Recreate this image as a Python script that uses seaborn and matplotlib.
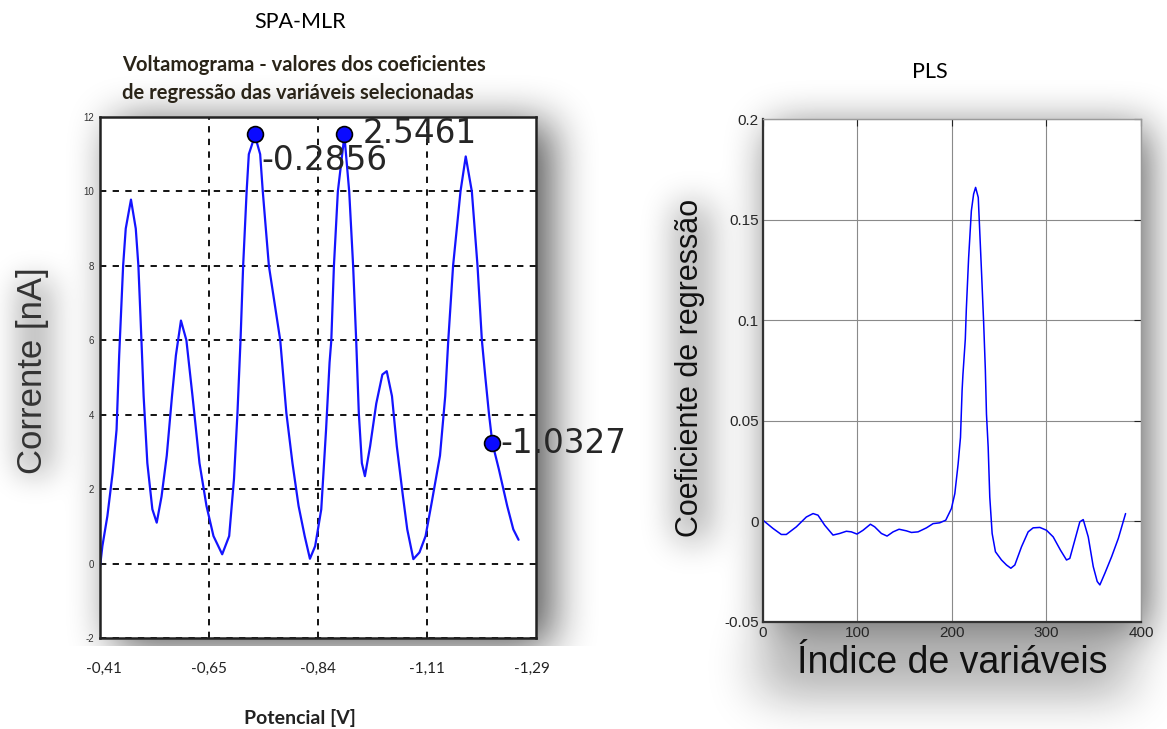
import matplotlib
matplotlib.use("Agg")
import matplotlib.pyplot as plt
import seaborn as sns
import pandas as pd
import numpy as np

# ---------------- data: SPA-MLR voltammogram ----------------
# scan position along the potential axis (0 = -0,41 V ... 100 = end of scan)
potencial_pos = [0, 0.65, 1.8, 3.0, 3.9, 4.5, 5.4, 6.0, 7.2, 8.3, 8.9, 9.6, 10.1, 10.95,
                 12.1, 13.1, 14.2, 15.4, 16.6, 17.5, 18.65, 19.9, 21.3, 22.9, 24.5, 26.1,
                 28.1, 29.7, 30.8, 31.6, 32.3, 32.9, 33.7, 34.2, 35.6, 36.8, 37.4, 38.8,
                 41.4, 42.8, 44.2, 45.6, 47.0, 48.2, 49.4, 50.8, 51.9, 52.7, 53.1, 53.7,
                 54.6, 56.1, 57.2, 58.1, 58.8, 59.4, 60.1, 60.8, 62.0, 63.4, 64.8, 65.8,
                 67.0, 68.1, 69.5, 70.5, 71.9, 73.3, 74.7, 76.1, 78.0, 79.2, 79.9, 81.0,
                 82.7, 83.9, 85.3, 86.6, 87.6, 88.4, 89.2, 90.0, 91.5, 93.4, 94.8, 96.0]
corrente = [-0.2, 0.47, 1.28, 2.44, 3.6, 5.6, 8.0, 9.0, 9.78, 9.0, 8.0, 6.0, 4.5, 2.7,
            1.46, 1.1, 1.8, 2.9, 4.5, 5.6, 6.53, 6.0, 4.5, 2.7, 1.55, 0.74,
            0.25, 0.74, 2.27, 4.05, 6.0, 8.0, 10.0, 11.0, 11.5, 11.0, 10.0, 8.0,
            6.0, 4.05, 2.7, 1.55, 0.74, 0.13, 0.47, 1.46, 3.6, 5.4, 6.0, 8.0,
            10.0, 11.5, 10.0, 8.0, 6.0, 4.05, 2.7, 2.35, 3.16, 4.3, 5.08, 5.17,
            4.5, 3.16, 1.82, 0.92, 0.12, 0.3, 0.74, 1.64, 2.9, 4.5, 6.0, 8.0,
            10.0, 10.94, 10.0, 8.0, 6.0, 5.0, 4.05, 3.24, 2.53, 1.55, 0.92, 0.64]

sel_pos = [35.6, 56.1, 90.0]
sel_corrente = [11.55, 11.55, 3.24]
sel_coef = ["-0.2856", "2.5461", "-1.0327"]

pot_tick_pos = [1, 25, 50, 75, 99]
pot_tick_labels = ["-0,41", "-0,65", "-0,84", "-1,11", "-1,29"]
corr_ticks = [-2, 0, 2, 4, 6, 8, 10, 12]

# ---------------- data: PLS regression coefficients ----------------
indice = [0, 10.6, 19.4, 24.7, 35.3, 45.9, 53, 58.2, 65.3, 74.1, 81.2, 88.2, 93.5, 99.5,
          105.9, 113.7, 118.2, 125.3, 131.3, 137.7, 144, 151.8, 157.1, 164.1, 173, 180,
          187, 193.4, 199.4, 203, 206.5, 209, 210.7, 211.6, 214.1, 215.2, 217.6, 220.5,
          222.9, 225, 227.8, 230, 231.4, 233.5, 235.3, 236.5, 238.3, 240, 242.5, 246,
          252.4, 257.7, 262.3, 266.5, 273.6, 280.6, 285.9, 293, 300, 307.1, 314.8, 321.2,
          324.7, 330, 335.3, 338.9, 344.2, 349.5, 353.7, 356.5, 361.8, 368.9, 376, 383.7]
coeficiente = [0.0005, -0.0036, -0.0066, -0.0066, -0.0028, 0.0021, 0.0038, 0.003, -0.002,
               -0.0069, -0.0061, -0.005, -0.0053, -0.0064, -0.0045, -0.0015, -0.0028,
               -0.0061, -0.0074, -0.0053, -0.004, -0.0048, -0.0056, -0.0053, -0.0033,
               -0.0012, -0.0008, 0.0005, 0.0063, 0.0137, 0.0285, 0.0417, 0.065, 0.073,
               0.0906, 0.1057, 0.1309, 0.1544, 0.1628, 0.1661, 0.1611, 0.1376, 0.1225,
               0.099, 0.0755, 0.0533, 0.0368, 0.012, -0.0061, -0.0152, -0.0193, -0.0218,
               -0.0234, -0.0218, -0.0127, -0.0053, -0.0033, -0.0031, -0.0045, -0.0078,
               -0.0144, -0.0193, -0.0185, -0.0094, -0.0003, 0.0008, -0.0078, -0.0226,
               -0.03, -0.0317, -0.0259, -0.0177, -0.0086, 0.0038]
idx_ticks = [0, 100, 200, 300, 400]
coef_ticks = [-0.05, 0, 0.05, 0.1, 0.15, 0.2]
coef_tick_labels = ["-0.05", "0", "0.05", "0.1", "0.15", "0.2"]

# ---------------- style ----------------
sns.set_style("white")
plt.rcParams["font.family"] = ["Liberation Sans", "DejaVu Sans"]

W, H = 1167, 729
fig = plt.figure(figsize=(W / 100, H / 100), dpi=100)
fig.patch.set_facecolor("white")


# ---------------- soft drop shadows (decoration, pixel space) ----------------
def _blur1d(a, r, axis):
    a = np.moveaxis(a, axis, -1)
    p = np.pad(a, [(0, 0), (r + 1, r)], mode="constant")
    c = np.cumsum(p, axis=-1)
    out = (c[:, 2 * r + 1:] - c[:, :-2 * r - 1]) / (2 * r + 1)
    return np.moveaxis(out, -1, axis)


def _soft(rects, sigma):
    m = np.zeros((H, W))
    for (x0, y0, x1, y1) in rects:
        m[y0:y1, x0:x1] = 1.0
    r = max(1, int(round(sigma)))
    for _ in range(3):
        m = _blur1d(m, r, 1)
        m = _blur1d(m, r, 0)
    return m


layers = []
left_sh = 0.72 * _soft([(114, 123, 551, 646)], 20)
left_sh[646:, :600] = 0
layers.append(left_sh)
layers.append(0.30 * _soft([(18, 280, 52, 474)], 14))
layers.append(0.62 * _soft([(770, 128, 1150, 632)], 20))
layers.append(0.38 * _soft([(760, 640, 1130, 692)], 24))
layers.append(0.35 * _soft([(676, 205, 710, 540)], 16))
alpha = 1 - np.prod([1 - l for l in layers], axis=0)
shadow = np.zeros((H, W, 4))
shadow[..., :3] = 0.05
shadow[..., 3] = np.clip(alpha, 0, 1)
fig.figimage(shadow, xo=0, yo=0, origin="upper", zorder=-5)

# ================= left panel =================
axL = fig.add_axes([0.0853, 0.1248, 0.3740, 0.7147])
axL.set_facecolor("white")
dfL = pd.DataFrame({"pos": potencial_pos, "corrente": corrente})
sns.lineplot(data=dfL, x="pos", y="corrente", ax=axL, sort=False, estimator=None,
             color="#1414ff", linewidth=1.6)
dfS = pd.DataFrame({"pos": sel_pos, "corrente": sel_corrente})
sns.scatterplot(data=dfS, x="pos", y="corrente", ax=axL, s=130, color="#0a0aff",
                edgecolor="black", linewidth=1.2, zorder=5)
offsets = [(5, -19), (13, 0), (6, 0)]
for x, y, t, off in zip(sel_pos, sel_corrente, sel_coef, offsets):
    axL.annotate(t, (x, y), xytext=off, textcoords="offset points",
                 ha="left", va="center", fontsize=23.5, color="#262626",
                 family=["DejaVu Sans"], zorder=6)

axL.set_xlim(0, 100)
axL.set_ylim(-2, 12)
axL.set_xticks(pot_tick_pos)
axL.set_xticklabels(pot_tick_labels, fontsize=11, family=["Lato", "DejaVu Sans"],
                    color="#222222")
axL.set_yticks(corr_ticks)
axL.set_yticklabels([str(v) for v in corr_ticks], fontsize=7, color="#333333")
axL.tick_params(axis="x", direction="in", length=3, pad=17, width=1)
axL.tick_params(axis="y", direction="in", length=0, pad=4)
axL.grid(True, color="black", linestyle=(0, (3.5, 3.5)), linewidth=1.3)
gl = axL.xaxis.get_gridlines()
gl[0].set_visible(False)
gl[-1].set_visible(False)
for s in axL.spines.values():
    s.set_color("#222222")
    s.set_linewidth(1.8)
axL.set_xlabel("Potencial [V]", fontsize=14, fontweight="bold",
               family=["Lato", "DejaVu Sans"], color="#222222")
axL.xaxis.set_label_coords(0.459, -0.1536)
axL.xaxis.label.set_va("center")
axL.set_ylabel("Corrente [nA]", fontsize=25, color="#333333")
axL.yaxis.set_label_coords(-0.1526, 0.514)
axL.yaxis.label.set_va("center")

fig.text(0.1045, 1 - 79 / 729,
         "Voltamograma - valores dos coeficientes\nde regressão das variáveis selecionadas",
         ha="left", va="center", fontsize=14.5, fontweight="bold", linespacing=1.5,
         family=["Lato", "DejaVu Sans"], color="#2a2418")
fig.text(300 / 1167, 1 - 22 / 729, "SPA-MLR", ha="center", va="center", fontsize=15.5,
         family=["Lato", "DejaVu Sans"], color="black")

# ================= right panel =================
axR = fig.add_axes([0.6538, 0.1472, 0.3239, 0.6892])
axR.set_facecolor("white")
dfR = pd.DataFrame({"indice": indice, "coeficiente": coeficiente})
sns.lineplot(data=dfR, x="indice", y="coeficiente", ax=axR, sort=False, estimator=None,
             color="#0000ff", linewidth=1.1)
axR.set_xlim(0, 400)
axR.set_ylim(-0.05, 0.2)
axR.set_xticks(idx_ticks)
axR.set_xticklabels([str(v) for v in idx_ticks], fontsize=11)
axR.set_yticks(coef_ticks)
axR.set_yticklabels(coef_tick_labels, fontsize=11)
axR.tick_params(direction="in", length=5, top=True, right=True, pad=3, color="#222222")
axR.grid(True, color="#8a8a8a", linewidth=0.8)
for name, s in axR.spines.items():
    if name in ("left", "bottom"):
        s.set_color("#333333")
        s.set_linewidth(1.6)
    else:
        s.set_color("#9a9a9a")
        s.set_linewidth(1.0)
axR.set_xlabel("Índice de variáveis", fontsize=27, color="#111111")
axR.xaxis.set_label_coords(0.5, -0.102)
axR.xaxis.label.set_va("baseline")
axR.set_ylabel("Coeficiente de regressão", fontsize=22, color="#111111")
axR.yaxis.set_label_coords(-0.193, 0.505)
axR.yaxis.label.set_va("center")
fig.text(930 / 1167, 1 - 72 / 729, "PLS", ha="center", va="center", fontsize=15.5,
         family=["Lato", "DejaVu Sans"], color="black")

fig.savefig("out.png", dpi=100, facecolor="white")
